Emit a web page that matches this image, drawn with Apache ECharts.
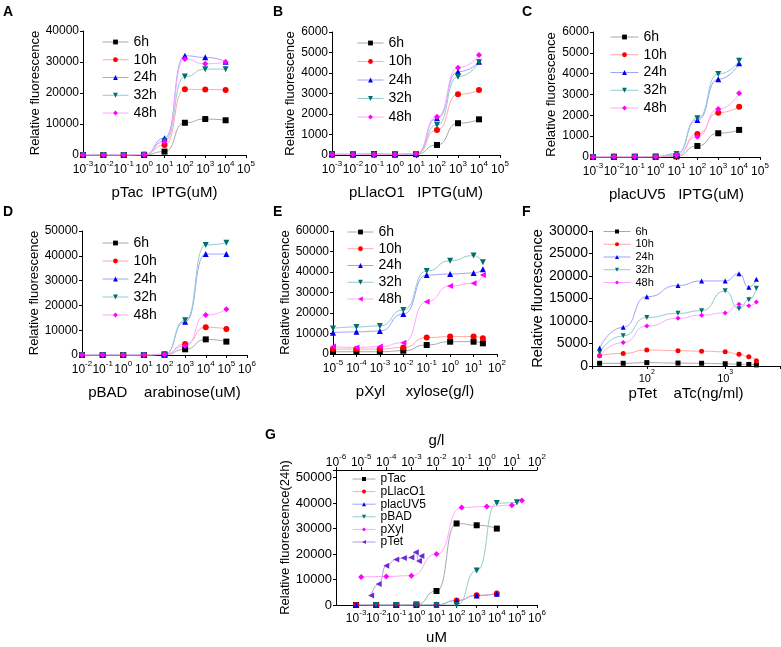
<!DOCTYPE html>
<html><head><meta charset="utf-8">
<script src="https://cdn.jsdelivr.net/npm/echarts@6/dist/echarts.min.js"></script>
<style>html,body{margin:0;padding:0;background:#fff}#c{width:781px;height:647px}</style>
</head><body><div id="c"></div>
<script>
// ---------------- DATA ----------------
const timeLabels = ['6h', '10h', '24h', '32h', '48h'];

const iptgUM = [0.001, 0.01, 0.1, 1, 10, 100, 1000, 10000];
const arabinoseUM = [0.01, 0.1, 1, 10, 100, 1000, 10000, 100000];
const xyloseGL = [1e-5, 1e-4, 1e-3, 1e-2, 0.1, 1, 10, 25];
const aTcNgMl = [25, 50, 100, 250, 500, 1000, 1500, 2000, 2500];
const aTcGL = [2.5e-5, 5e-5, 1e-4, 2.5e-4, 5e-4, 1e-3, 1.5e-3, 2e-3, 2.5e-3];

// A pTac
const pTac_6h  = [0, 0, 0, 30, 1100, 10400, 11600, 11200];
const pTac_10h = [0, 0, 0, 50, 3200, 21200, 21100, 21000];
const pTac_24h = [0, 0, 0, 100, 5400, 32000, 31500, 30100];
const pTac_32h = [0, 0, 0, 100, 4500, 25300, 27700, 27700];
const pTac_48h = [0, 0, 0, 100, 4300, 31000, 29400, 30000];
// B pLlacO1
const pLlacO1_6h  = [40, 30, 50, 30, 40, 490, 1550, 1740];
const pLlacO1_10h = [30, 30, 40, 30, 40, 1220, 2960, 3170];
const pLlacO1_24h = [30, 30, 30, 30, 50, 1790, 4060, 4550];
const pLlacO1_32h = [30, 30, 30, 30, 50, 1460, 3820, 4520];
const pLlacO1_48h = [30, 30, 30, 30, 60, 1870, 4260, 4880];
// C placUV5
const placUV5_6h  = [0, 10, 10, 10, 30, 530, 1140, 1300];
const placUV5_10h = [0, 10, 10, 10, 60, 1100, 2130, 2410];
const placUV5_24h = [0, 10, 10, 20, 150, 1780, 3730, 4500];
const placUV5_32h = [0, 10, 10, 20, 150, 1860, 3980, 4620];
const placUV5_48h = [0, 10, 10, 10, 80, 975, 2300, 3060];
// D pBAD
const pBAD_6h  = [0, 0, 0, 0, 100, 2300, 6300, 5400];
const pBAD_10h = [0, 0, 0, 0, 200, 4400, 11200, 10500];
const pBAD_24h = [0, 0, 0, 0, 300, 13400, 40700, 40700];
const pBAD_32h = [0, 0, 0, 0, 300, 14000, 44400, 45300];
const pBAD_48h = [0, 0, 0, 0, 200, 3600, 16100, 18400];
// E pXyl
const pXyl_6h  = [1100, 1100, 1100, 1600, 4400, 6000, 6000, 5200];
const pXyl_10h = [2400, 2400, 2400, 3200, 8000, 8500, 8500, 7700];
const pXyl_24h = [10400, 10800, 11200, 19500, 38500, 39000, 39500, 41300];
const pXyl_32h = [12500, 13200, 13700, 21500, 40500, 45500, 48000, 44700];
const pXyl_48h = [3600, 3200, 3600, 5500, 25500, 33200, 34500, 38500];
// F pTet
const pTet_6h  = [600, 600, 750, 650, 600, 500, 400, 350, 250];
const pTet_10h = [2300, 2800, 3550, 3400, 3300, 3150, 2600, 2070, 1180];
const pTet_24h = [4000, 8600, 15400, 17900, 18900, 18900, 20500, 17500, 19300];
const pTet_32h = [3000, 6700, 10800, 11700, 12300, 16700, 12700, 14700, 17300];
const pTet_48h = [2200, 5200, 8900, 10600, 11300, 11800, 13700, 13400, 14200];
// G 24h comparison
const gNames = ['pTac', 'pLlacO1', 'placUV5', 'pBAD', 'pXyl', 'pTet'];
const G_pTac    = [0, 0, 0, 200, 5500, 32000, 31300, 30000];
const G_pLlacO1 = [0, 0, 0, 0, 50, 1800, 3800, 4500];
const G_placUV5 = [0, 0, 0, 0, 100, 1700, 3700, 4400];
const G_pBAD    = [0, 0, 0, 0, 0, 13500, 40000, 40300];
const G_pXyl    = [11000, 11200, 11500, 20000, 38300, 38700, 39200, 41000];
const G_pTet    = [3700, 8200, 15400, 17900, 18500, 18600, 20700, 17300, 19200];

// ---------------- STYLE ----------------
const FONT = "'Liberation Sans', Arial, Helvetica, sans-serif";
const tStyles = [
  {sym: 'rect', rot: 0, c: '#000000', lc: '#a8a8a8'},
  {sym: 'circle', rot: 0, c: '#ff0000', lc: '#ffa8a8'},
  {sym: 'triangle', rot: 0, c: '#0000ee', lc: '#a0a0ff'},
  {sym: 'triangle', rot: 180, c: '#006e6e', lc: '#94cccc'},
  {sym: 'diamond', rot: 0, c: '#ff00ff', lc: '#ffa8ff'}
];
const leftTri = {sym: 'triangle', rot: 90, c: '#ff00ff', lc: '#ffa8ff'};

const panels = [
  {id: 'A', grid: {left: 83, top: 31, width: 163, height: 124}, xMin: 1e-3, xMax: 1e5, yMax: 40000, yInt: 10000,
   x: iptgUM, ys: [pTac_6h, pTac_10h, pTac_24h, pTac_32h, pTac_48h], xName: 'pTac  IPTG(uM)', yGap: 35,
   leg: {left: 102, top: 35, gap: 3.75, w: 26, fs: 14}},
  {id: 'B', grid: {left: 332, top: 32, width: 168, height: 123}, xMin: 1e-3, xMax: 1e5, yMax: 6000, yInt: 1000,
   x: iptgUM, ys: [pLlacO1_6h, pLlacO1_10h, pLlacO1_24h, pLlacO1_32h, pLlacO1_48h], xName: 'pLlacO1   IPTG(uM)', yGap: 27,
   leg: {left: 357, top: 36, gap: 4.5, w: 26, fs: 14}},
  {id: 'C', grid: {left: 593, top: 32, width: 167, height: 125}, xMin: 1e-3, xMax: 1e5, yMax: 6000, yInt: 1000,
   x: iptgUM, ys: [placUV5_6h, placUV5_10h, placUV5_24h, placUV5_32h, placUV5_48h], xName: 'placUV5   IPTG(uM)', yGap: 29,
   leg: {left: 610, top: 30, gap: 3.75, w: 28, fs: 14}},
  {id: 'D', grid: {left: 82, top: 231, width: 165, height: 124}, xMin: 1e-2, xMax: 1e6, yMax: 50000, yInt: 10000,
   x: arabinoseUM, ys: [pBAD_6h, pBAD_10h, pBAD_24h, pBAD_32h, pBAD_48h], xName: 'pBAD    arabinose(uM)', yGap: 33,
   leg: {left: 102, top: 236, gap: 4, w: 26, fs: 14}},
  {id: 'E', grid: {left: 333, top: 231, width: 164, height: 123}, xMin: 1e-5, xMax: 1e2, yMax: 60000, yInt: 10000,
   x: xyloseGL, ys: [pXyl_6h, pXyl_10h, pXyl_24h, pXyl_32h, pXyl_48h], xName: 'pXyl     xylose(g/l)', yGap: 33,
   leg: {left: 347, top: 225, gap: 2.75, w: 26, fs: 14}, sym48: leftTri},
  {id: 'F', grid: {left: 592, top: 231, width: 188, height: 135}, xMin: 20, xMax: 5000, yMax: 30000, yInt: 5000,
   x: aTcNgMl, ys: [pTet_6h, pTet_10h, pTet_24h, pTet_32h, pTet_48h], xName: 'pTet    aTc(ng/ml)', yGap: 44,
   leg: {left: 603, top: 226, gap: 1.75, w: 27, fs: 11}, big: true}
];

const grids = [], xAxes = [], yAxes = [], series = [], legends = [], graphics = [];

function logFmt(v) {
  const e = Math.log10(v), r = Math.round(e);
  if (Math.abs(e - r) > 1e-6) return '';
  return '{b|10}{s|' + r + '}';
}
function logLabel(fs, ss, margin) {
  return {
    interval: 0, margin: margin, color: '#000', fontFamily: FONT, formatter: logFmt,
    rich: {
      b: {fontSize: fs, lineHeight: fs + 4, verticalAlign: 'bottom', fontFamily: FONT, color: '#000'},
      s: {fontSize: ss, lineHeight: ss, verticalAlign: 'top', fontFamily: FONT, color: '#000'}
    }
  };
}
const axisLine = {show: true, onZero: false, lineStyle: {color: '#000', width: 1}};
const axisTick = {show: true, length: 3, lineStyle: {color: '#000'}};
const plainNum = v => String(v);

panels.forEach((p, i) => {
  grids.push(Object.assign({containLabel: false, outerBoundsMode: 'none', show: false}, p.grid));
  const xa = {
    type: 'log', gridIndex: i, min: p.xMin, max: p.xMax, logBase: 10,
    axisLine: axisLine, axisTick: axisTick, splitLine: {show: false}, minorTick: {show: false},
    axisLabel: p.big ? logLabel(11, 7, 3) : logLabel(12, 8, 5),
    name: p.xName, nameLocation: 'middle', nameGap: p.big ? 20 : 30,
    nameTextStyle: {fontSize: 15, color: '#000', fontFamily: FONT}
  };
  if (!p.big) xa.interval = 1;
  xAxes.push(xa);
  yAxes.push({
    type: 'value', gridIndex: i, min: 0, max: p.yMax, interval: p.yInt,
    axisLine: axisLine, axisTick: axisTick, splitLine: {show: false},
    axisLabel: {fontSize: p.big ? 14 : 12, color: '#000', fontFamily: FONT, margin: 4, formatter: plainNum},
    name: 'Relative fluorescence', nameLocation: 'middle', nameGap: p.yGap,
    nameTextStyle: {fontSize: p.big ? 14.5 : 13, color: '#000', fontFamily: FONT}
  });
  const legData = [];
  timeLabels.forEach((t, k) => {
    const st = (k === 4 && p.sym48) ? p.sym48 : tStyles[k];
    const nm = p.id + '|' + t;
    legData.push({name: nm, lineStyle: {color: st.lc, width: 1}, itemStyle: {color: st.c}});
    series.push({
      type: 'line', name: nm, xAxisIndex: i, yAxisIndex: i,
      data: p.x.map((xv, j) => [xv, p.ys[k][j]]),
      smooth: 0.6, smoothMonotone: 'x',
      symbol: st.sym, symbolSize: p.big ? 5 : 6, symbolRotate: st.rot,
      itemStyle: {color: st.c}, lineStyle: {color: st.lc, width: 1}, z: 2
    });
  });
  legends.push({
    orient: 'vertical', left: p.leg.left, top: p.leg.top, padding: 0,
    itemWidth: p.leg.w, itemHeight: p.big ? 5 : 6, itemGap: p.leg.gap, selectedMode: false,
    data: legData, formatter: n => n.split('|')[1],
    textStyle: {fontSize: p.leg.fs, color: '#000', fontFamily: FONT}
  });
  graphics.push({type: 'text', left: p.id === 'A' || p.id === 'D' ? 3 : (p.id === 'B' || p.id === 'E' ? 273 : 522),
    top: i < 3 ? 5 : 205, style: {text: p.id, font: 'bold 14px ' + FONT, fill: '#000'}});
});

// ---- Panel G ----
const gi = panels.length;
grids.push({left: 336, top: 470, width: 201, height: 135, containLabel: false, outerBoundsMode: 'none', show: false});
xAxes.push({
  type: 'log', gridIndex: gi, min: 1e-4, max: 1e6, interval: 1, logBase: 10, position: 'bottom',
  axisLine: axisLine, axisTick: axisTick, splitLine: {show: false},
  axisLabel: logLabel(12, 8, 4),
  name: 'uM', nameLocation: 'middle', nameGap: 25, nameTextStyle: {fontSize: 15, color: '#000', fontFamily: FONT}
});
xAxes.push({
  type: 'log', gridIndex: gi, min: 1e-6, max: 1e2, interval: 1, logBase: 10, position: 'top',
  axisLine: axisLine, axisTick: axisTick, splitLine: {show: false},
  axisLabel: logLabel(12, 8, 1),
  name: 'g/l', nameLocation: 'middle', nameGap: 22, nameTextStyle: {fontSize: 15, color: '#000', fontFamily: FONT}
});
yAxes.push({
  type: 'value', gridIndex: gi, min: 0, max: 53000, interval: 10000,
  axisLine: axisLine, axisTick: axisTick, splitLine: {show: false},
  axisLabel: {fontSize: 13, color: '#000', fontFamily: FONT, margin: 4,
    formatter: v => (v % 10000 === 0 ? String(v) : '')},
  name: 'Relative fluorescence(24h)', nameLocation: 'middle', nameGap: 42,
  nameTextStyle: {fontSize: 13, color: '#000', fontFamily: FONT}
});
const gDefs = [
  {n: 'pTac', x: iptgUM, y: G_pTac, ax: gi, sym: 'rect', rot: 0, c: '#000000', lc: '#a8a8a8'},
  {n: 'pLlacO1', x: iptgUM, y: G_pLlacO1, ax: gi, sym: 'circle', rot: 0, c: '#ff0000', lc: '#ffa8a8'},
  {n: 'placUV5', x: iptgUM, y: G_placUV5, ax: gi, sym: 'triangle', rot: 0, c: '#0000ee', lc: '#a0a0ff'},
  {n: 'pBAD', x: arabinoseUM, y: G_pBAD, ax: gi, sym: 'triangle', rot: 180, c: '#006e6e', lc: '#94cccc'},
  {n: 'pXyl', x: xyloseGL, y: G_pXyl, ax: gi + 1, sym: 'diamond', rot: 0, c: '#ff00ff', lc: '#ffa8ff'},
  {n: 'pTet', x: aTcGL, y: G_pTet, ax: gi + 1, sym: 'triangle', rot: 90, c: '#6a2ad0', lc: '#b49ae8'}
];
const gLeg = [];
gDefs.forEach(d => {
  const nm = 'G|' + d.n;
  gLeg.push({name: nm, lineStyle: {color: d.lc, width: 1}, itemStyle: {color: d.c}});
  series.push({
    type: 'line', name: nm, xAxisIndex: d.ax, yAxisIndex: gi,
    data: d.x.map((xv, j) => [xv, d.y[j]]),
    smooth: 0.6, smoothMonotone: 'x',
    symbol: d.sym, symbolSize: 6, symbolRotate: d.rot,
    itemStyle: {color: d.c}, lineStyle: {color: d.lc, width: 1}
  });
});
legends.push({
  orient: 'vertical', left: 352, top: 473, padding: 0, itemWidth: 23, itemHeight: 5, itemGap: 0.6,
  selectedMode: false, data: gLeg, formatter: n => n.split('|')[1],
  textStyle: {fontSize: 12, color: '#000', fontFamily: FONT}
});
graphics.push({type: 'text', left: 265, top: 428, style: {text: 'G', font: 'bold 14px ' + FONT, fill: '#000'}});

const chart = echarts.init(document.getElementById('c'), null, {renderer: 'canvas'});
chart.setOption({
  animation: false, backgroundColor: '#fff',
  textStyle: {fontFamily: FONT, color: '#000'},
  grid: grids, xAxis: xAxes, yAxis: yAxes, series: series, legend: legends, graphic: graphics
});
</script></body></html>
